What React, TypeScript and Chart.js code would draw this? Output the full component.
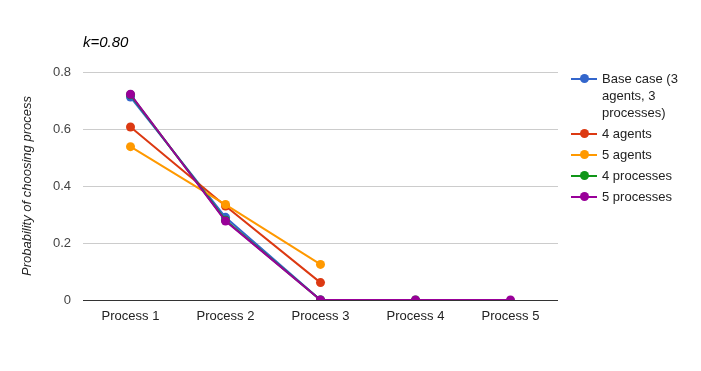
import React, { useEffect, useRef } from "react";
import { Chart, registerables } from "chart.js";

Chart.register(...registerables);

const categories = ["Process 1", "Process 2", "Process 3", "Process 4", "Process 5"];
const seriesNames = ["Base case (3 agents, 3 processes)", "4 agents", "5 agents", "4 processes", "5 processes"];
const seriesColors = ["#3366cc", "#dc3912", "#ff9900", "#109618", "#990099"];
const baseCase = [0.712, 0.29, 0, null, null];
const fourAgents = [0.607, 0.33, 0.061, null, null];
const fiveAgents = [0.538, 0.335, 0.125, null, null];
const fourProcesses = [0.72, 0.28, 0, 0, null];
const fiveProcesses = [0.722, 0.277, 0, 0, 0];
const yTicks = [0, 0.2, 0.4, 0.6, 0.8];
const titleText = "k=0.80";
const yTitle = "Probability of choosing process";

const FONT = '"Liberation Sans", Arial, sans-serif';

const titlePlugin = {
  id: "customTitle",
  afterDraw(chart: any) {
    const ctx = chart.ctx;
    ctx.save();
    ctx.font = `italic 15px ${FONT}`;
    ctx.fillStyle = "#000000";
    ctx.textAlign = "left";
    ctx.textBaseline = "middle";
    ctx.fillText(titleText, chart.chartArea.left, 43);
    ctx.restore();
  },
};

export default function App() {
  const ref = useRef<HTMLCanvasElement>(null);

  useEffect(() => {
    if (!ref.current) return;
    const allSeries = [baseCase, fourAgents, fiveAgents, fourProcesses, fiveProcesses];
    const chart = new Chart(ref.current, {
      type: "line",
      data: {
        labels: categories,
        datasets: allSeries.map((d, i) => ({
          label: seriesNames[i],
          data: d,
          borderColor: seriesColors[i],
          backgroundColor: seriesColors[i],
          pointBackgroundColor: seriesColors[i],
          pointBorderWidth: 0,
          pointRadius: 4.5,
          borderWidth: 2,
          tension: 0,
          fill: false,
          order: allSeries.length - 1 - i,
        })),
      },
      options: {
        animation: false,
        responsive: false,
        devicePixelRatio: 1,
        layout: { padding: { left: 0, right: 143, top: 72, bottom: 0 } },
        plugins: {
          legend: { display: false },
          title: { display: false },
          tooltip: { enabled: false },
        },
        scales: {
          x: {
            type: "category",
            offset: true,
            grid: { display: false, drawTicks: false },
            border: { display: false },
            ticks: { color: "#222222", font: { family: FONT, size: 13 }, padding: 9, maxRotation: 0 },
            afterFit: (s: any) => { s.height = 71; },
          },
          y: {
            min: 0,
            max: 0.8,
            afterBuildTicks: (s: any) => { s.ticks = yTicks.map((v) => ({ value: v })); },
            grid: {
              drawTicks: false,
              color: (c: any) => (c.tick && c.tick.value === 0 ? "#333333" : "#cccccc"),
              lineWidth: 1,
            },
            border: { display: false },
            ticks: {
              color: "#444444",
              font: { family: FONT, size: 13 },
              padding: 12,
              callback: (v: any) => (Number(v) === 0 ? "0" : Number(v).toFixed(1)),
            },
            title: {
              display: true,
              text: yTitle,
              color: "#222222",
              font: { family: FONT, size: 13, style: "italic" },
              padding: { top: 20, bottom: 0 },
            },
            afterFit: (s: any) => { s.width = 83; },
          },
        },
      },
      plugins: [titlePlugin],
    } as any);
    return () => chart.destroy();
  }, []);

  return (
    <div style={{ position: "absolute", left: 0, top: 0, width: 701, height: 371, background: "#ffffff" }}>
      <canvas ref={ref} width={701} height={371} style={{ display: "block" }} />
      <div style={{ position: "absolute", left: 571, top: 70, fontFamily: FONT, fontSize: 13, color: "#222222" }}>
        {seriesNames.map((name, i) => (
          <div key={name} style={{ display: "flex", alignItems: "flex-start", marginBottom: 4 }}>
            <div style={{ position: "relative", width: 26, height: 17, flex: "0 0 26px" }}>
              <div style={{ position: "absolute", left: 0, top: 7.5, width: 26, height: 2, background: seriesColors[i] }} />
              <div style={{ position: "absolute", left: 8.5, top: 4, width: 9, height: 9, borderRadius: "50%", background: seriesColors[i] }} />
            </div>
            <div style={{ marginLeft: 5, width: 95, lineHeight: "17px" }}>{name}</div>
          </div>
        ))}
      </div>
    </div>
  );
}
